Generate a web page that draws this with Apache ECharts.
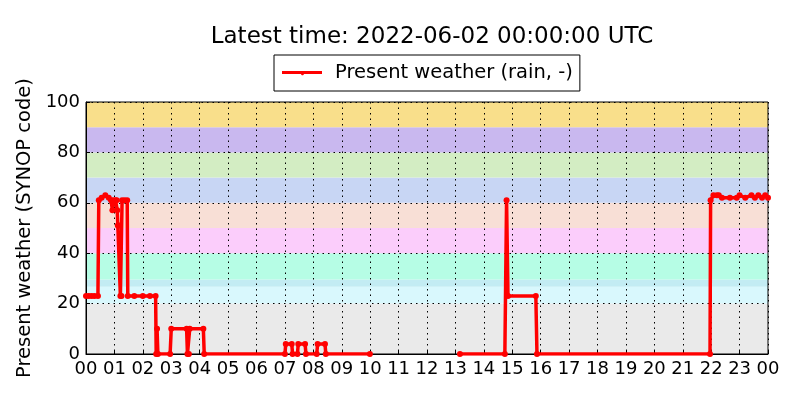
<!DOCTYPE html>
<html>
<head>
<meta charset="utf-8">
<script src="https://cdn.jsdelivr.net/npm/echarts@6/dist/echarts.min.js"></script>
<style>html,body{margin:0;padding:0;background:#fff}#c{width:800px;height:400px}</style>
</head>
<body>
<div id="c"></div>
<script>
// Hours since 00 UTC (null = gap in data)
var hours = [0.00,0.10,0.20,0.30,0.42,0.45,0.55,0.68,0.80,0.88,0.93,0.96,1.04,1.08,1.10,1.12,1.18,1.21,1.25,1.27,1.36,1.45,1.47,1.70,2.00,2.25,2.45,2.47,2.50,2.53,2.96,3.00,3.54,3.57,3.62,3.65,4.13,4.16,
  7.00,7.03,7.24,7.27,7.44,7.47,7.71,7.74,8.12,8.15,8.41,8.44,9.99,
  null,
  13.16,14.74,14.80,14.85,15.83,15.87,21.96,21.98,22.08,22.20,22.27,22.38,22.66,22.90,23.00,23.20,23.42,23.54,23.66,23.79,23.90,24.00];
var values = [23,23,23,23,23,61,62,63,62,61,57,61,61,61,57,51,51,23,23,61,61,61,23,23,23,23,23,0,10,0,0,10,10,0,0,10,10,0,
  0,4,4,0,0,4,4,0,0,4,4,0,0,
  null,
  0,0,61,23,23,0,0,61,63,63,63,62,62,62,63,62,63,62,63,62,63,62];
var xTicks = ['00','01','02','03','04','05','06','07','08','09','10','11','12','13','14','15','16','17','18','19','20','21','22','23','00'];
var bandLow  = [0, 20, 26.7, 29.6, 40, 50, 60, 70, 80, 90];
var bandHigh = [20, 26.7, 29.6, 40, 50, 60, 70, 80, 90, 100];
var bandColors = ['#eaeaea','#d9f8fd','#c3ecf3','#b6fde5','#fbcdfb','#f8dfd6','#c8d6f4','#d3edc3','#c9b8ef','#f9df8b'];
var titleText = 'Latest time: 2022-06-02 00:00:00 UTC';
var seriesName = 'Present weather (rain, -)';
var yName = 'Present weather (SYNOP code)';

var pts = hours.map(function(h, i){ return h === null ? [null, null] : [h, values[i]]; });
var bands = bandLow.map(function(lo, i){
  return [{yAxis: lo, itemStyle: {color: bandColors[i], opacity: 1}}, {yAxis: bandHigh[i]}];
});
var FONT = 'DejaVu Sans';
var chart = echarts.init(document.getElementById('c'), null, {renderer: 'canvas'});
chart.setOption({
  animation: false,
  backgroundColor: '#fff',
  textStyle: {fontFamily: FONT, color: '#000'},
  title: {
    text: titleText, left: 427, top: 21, textAlign: 'center',
    textStyle: {fontFamily: FONT, fontSize: 23, fontWeight: 'normal', color: '#000'}
  },
  legend: {
    data: [{name: seriesName, icon: 'path://M0,3.5 L40,3.5 L40,6.5 L0,6.5 Z M21.6,5 A1.6,1.6 0 1 1 21.59,4.99 Z'}],
    left: 274, top: 55,
    borderColor: '#000', borderWidth: 1, borderRadius: 0, padding: [8, 7, 8, 8],
    itemWidth: 40, itemHeight: 10, itemGap: 6,
    textStyle: {fontFamily: FONT, fontSize: 19.5, color: '#000', padding: [0, 0, 0, 8]}
  },
  grid: {left: 86, right: 32, top: 102, bottom: 46, show: true, z: 4,
    backgroundColor: 'transparent', borderColor: '#000', borderWidth: 1},
  xAxis: {
    type: 'value', min: 0, max: 24, interval: 1, z: 3,
    axisLine: {show: true, lineStyle: {color: '#000', width: 1}},
    axisTick: {show: true, inside: true, length: 4, lineStyle: {color: '#000'}},
    axisLabel: {fontFamily: FONT, fontSize: 18, color: '#000', margin: 6,
      formatter: function(v){ return xTicks[Math.round(v)]; }},
    splitLine: {show: true, lineStyle: {color: '#000', type: [1.5, 4], width: 1}}
  },
  yAxis: {
    type: 'value', min: 0, max: 100, interval: 20, z: 3,
    name: yName, nameLocation: 'middle', nameGap: 41, nameRotate: 90,
    nameTextStyle: {fontFamily: FONT, fontSize: 19.5, color: '#000'},
    axisLine: {show: true, lineStyle: {color: '#000', width: 1}},
    axisTick: {show: true, inside: true, length: 4, lineStyle: {color: '#000'}},
    axisLabel: {fontFamily: FONT, fontSize: 18, color: '#000', margin: 6},
    splitLine: {show: true, lineStyle: {color: '#000', type: [1.5, 4], width: 1}}
  },
  series: [
    {
      type: 'line', name: '_bands', data: [], z: 1, silent: true,
      markArea: {silent: true, data: bands}
    },
    {
      type: 'line', name: seriesName, data: pts, z: 5, connectNulls: false,
      color: '#ff0000',
      lineStyle: {color: '#ff0000', width: 3.5},
      itemStyle: {color: '#ff0000'},
      symbol: 'circle', symbolSize: 6, showSymbol: true
    }
  ]
});
</script>
</body>
</html>
